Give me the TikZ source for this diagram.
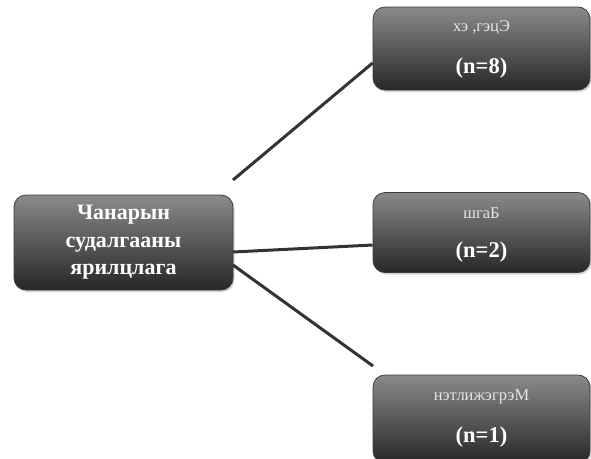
\documentclass[tikz,border=0pt]{standalone}
\usepackage{fontspec}
\setmainfont{Liberation Serif}
\usetikzlibrary{shadows,calc}
\definecolor{boxtop}{HTML}{8A8A8A}
\definecolor{boxbot}{HTML}{272727}
\definecolor{boxline}{HTML}{3C3C3C}
\definecolor{linkc}{HTML}{333333}
\definecolor{smalltxt}{HTML}{E6E6E6}
\tikzset{
  gbox/.style={draw=boxline, line width=0.8pt, rounded corners=12pt,
    top color=boxtop, bottom color=boxbot, text=white, align=center,
    inner sep=0pt, drop shadow={shadow xshift=1.5pt, shadow yshift=-2pt, opacity=0.35, fill=gray}},
  link/.style={draw=linkc, line width=3pt},
  smallline/.style={font=\fontsize{16.5}{19}\selectfont, text=smalltxt},
  bigline/.style={font=\fontsize{22.5}{26}\selectfont\bfseries}
}
\begin{document}
\begin{tikzpicture}[x=1pt,y=-1pt]
\useasboundingbox (0,0) rectangle (591,458);
% boxes
\node[gbox, minimum width=219pt, minimum height=95pt,
      font=\fontsize{22}{27.5}\selectfont\bfseries] (main) at (123.5,242.5)
      {Чанарын\\судалгааны\\ярилцлага};
\node[gbox, minimum width=217pt, minimum height=83pt] (b1) at (481.5,48.5) {};
\node[gbox, minimum width=217pt, minimum height=80pt] (b2) at (481.5,232.5) {};
\node[gbox, minimum width=217pt, minimum height=88pt] (b3) at (481.5,419) {};
% texts
\node[smallline] (t1a) at (481.5,28) {хэ ,гэцЭ};
\node[bigline, text=white] (t1b) at (481.5,68) {(n=8)};
\node[smallline] (t2a) at (481.5,213) {шгаБ};
\node[bigline, text=white] (t2b) at (481.5,252) {(n=2)};
\node[smallline] (t3a) at (481.5,397) {нэтлижэгрэМ};
\node[bigline, text=white] (t3b) at (481.5,437) {(n=1)};
% connector ends
\coordinate (s1) at (233,180);
\coordinate (s2) at (233,252);
\coordinate (s3) at (233,265);
\coordinate (e1) at ($(b1.west)+(0,14.5)$);
\coordinate (e2) at ($(b2.west)+(0,12.5)$);
\coordinate (e3) at (373,366);
\draw[link] (s1) -- (e1);
\draw[link] (s2) -- (e2);
\draw[link] (s3) -- (e3);
\end{tikzpicture}
\end{document}
